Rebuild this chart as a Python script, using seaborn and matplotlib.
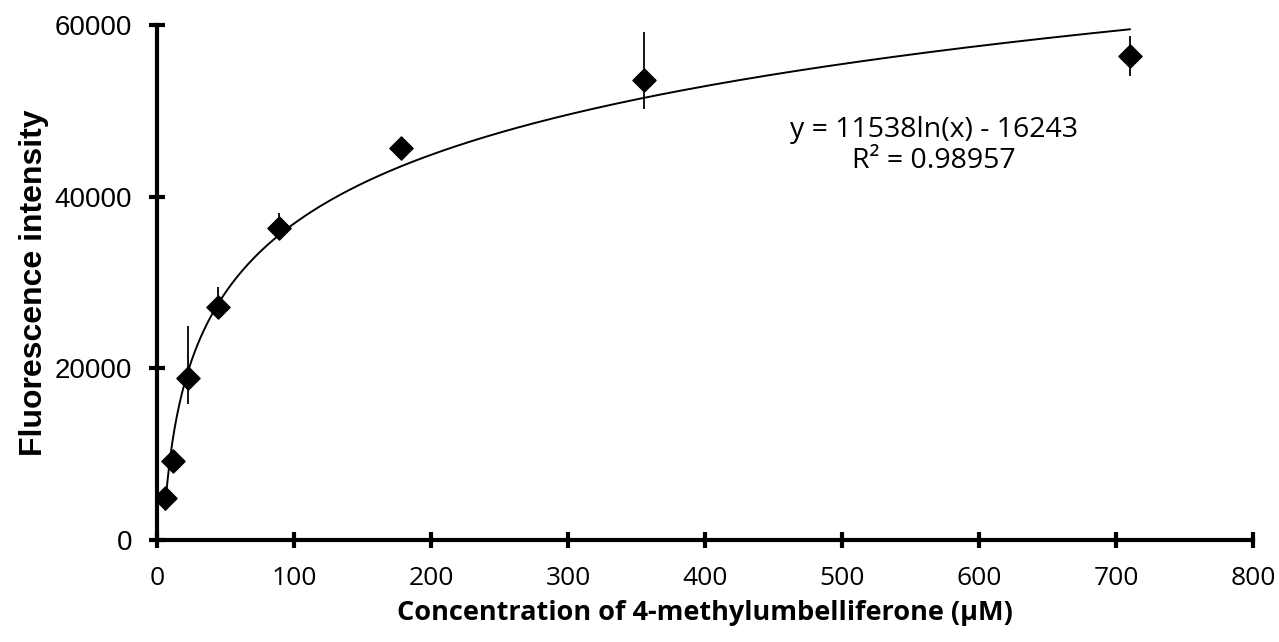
# Standard curve of 4-methylumbelliferone fluorescence

import numpy as np
import pandas as pd
import seaborn as sb
from matplotlib import pyplot as plt

# Data

conc = [5.55, 11.1, 22.2, 44.4, 88.8, 177.5, 355, 710] # uM
fluor = [4900, 9150, 18900, 27150, 36400, 45700, 53600, 56400]
err_low = [1400, 300, 3050, 1100, 1450, 300, 3400, 2350]
err_high = [300, 300, 6000, 2300, 1650, 300, 5600, 2300]

# Logarithmic trendline as printed on the chart
slope = 11538
intercept = -16243
r2 = 0.98957

xticks = [0, 100, 200, 300, 400, 500, 600, 700, 800]
yticks = [0, 20000, 40000, 60000]

df = pd.DataFrame({'conc': conc, 'fluor': fluor})

xfit = np.linspace(min(conc), max(conc), 400)
fit = pd.DataFrame({'x': xfit, 'y': slope*np.log(xfit) + intercept})

# Plot

sb.set_style('white')

fig = plt.figure(figsize = (12.79, 6.42), dpi = 100)
ax = fig.add_axes([0.123, 0.159, 0.857, 0.802])

sb.lineplot(data = fit, x = 'x', y = 'y', ax = ax, color = 'black', linewidth = 1.4)
ax.errorbar(conc, fluor, yerr = [err_low, err_high], fmt = 'none',
            ecolor = 'black', elinewidth = 1.3, capsize = 0)
sb.scatterplot(data = df, x = 'conc', y = 'fluor', ax = ax, marker = 'D',
               s = 140, color = 'black', edgecolor = 'black', zorder = 5)

ax.set_xlim(0, 800)
ax.set_ylim(0, 60000)
ax.set_xticks(xticks)
ax.set_xticklabels(xticks, fontfamily = 'Open Sans', fontsize = 19, color = 'black')
ax.set_yticks(yticks)
ax.set_yticklabels(yticks, fontfamily = 'Liberation Sans', fontsize = 20, color = 'black')

for s in ['top', 'right']:
    ax.spines[s].set_visible(False)
for s in ['left', 'bottom']:
    ax.spines[s].set_linewidth(3)
    ax.spines[s].set_color('black')
ax.tick_params(bottom = True, left = True, direction = 'inout', length = 12,
               width = 3, color = 'black')
ax.tick_params(axis = 'x', pad = 13)
ax.tick_params(axis = 'y', pad = 12)

ax.set_xlabel('Concentration of 4-methylumbelliferone (µM)', fontfamily = 'Open Sans',
              fontweight = 'bold', fontsize = 19.5, color = 'black', labelpad = 6)
ax.set_ylabel('Fluorescence intensity', fontfamily = 'Liberation Sans',
              fontweight = 'bold', fontsize = 23, color = 'black', labelpad = 4)

ax.text(567, 46000, 'y = %dln(x) - %d\nR² = %.5f' % (slope, -intercept, r2),
        ha = 'center', va = 'center', fontfamily = 'Open Sans', fontsize = 20.5,
        color = 'black', linespacing = 1.15)

plt.savefig('out.png', dpi = 100)
